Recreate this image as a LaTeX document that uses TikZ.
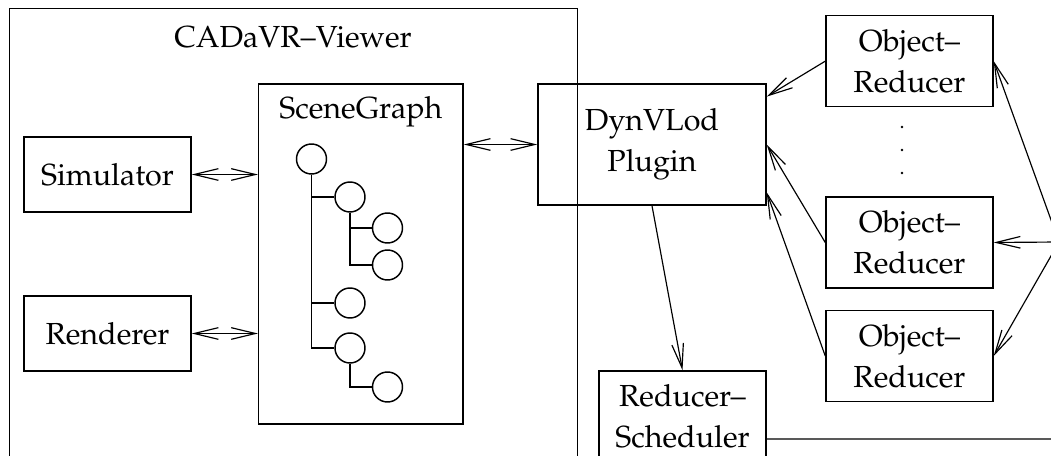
\documentclass[tikz,border=0pt]{standalone}
\usepackage[T1]{fontenc}
\usepackage{mathpazo}
\usepackage{tikz}
\usetikzlibrary{arrows.meta}

\tikzset{
  block/.style={draw, line width=0.5pt, align=center, inner sep=0pt},
  reducerbox/.style={block, minimum width=2.004cm, minimum height=1.092cm},
  sgcircle/.style={draw, circle, line width=0.5pt, minimum size=0.36cm, inner sep=0pt},
  onearrow/.style={line width=0.4pt, -{Straight Barb[length=2.9mm,width=1.4mm]}},
  twoarrow/.style={line width=0.4pt, {Straight Barb[length=2.9mm,width=1.4mm]}-{Straight Barb[length=2.9mm,width=1.4mm]}},
}

\begin{document}
\begin{tikzpicture}[font=\fontsize{10.4}{14}\selectfont]
\useasboundingbox (0cm,0cm) rectangle (12.612cm,-5.472cm);
\clip (0cm,0cm) rectangle (12.612cm,-5.472cm);

% viewer
\node [block, anchor=north west, minimum width=6.816cm, minimum height=5.8cm] (viewer) at (0.108cm,-0.096cm) {};
\node (viewertitle) at (3.516cm,-0.444cm) {CADaVR--Viewer};

\node [block, minimum width=2.004cm, minimum height=0.9cm] (sim) at (1.29cm,-2.094cm) {Simulator};
\node [block, minimum width=2.004cm, minimum height=0.9cm] (ren) at (1.29cm,-4.002cm) {Renderer};

% scene graph
\node [block, minimum width=2.453cm, minimum height=4.08cm] (scene) at (4.33cm,-3.048cm) {};
\node (scenetitle) at (4.33cm,-1.344cm) {SceneGraph};

\node [sgcircle] (root) at (3.738cm,-1.908cm) {};
\node [sgcircle] (c1) at (4.2cm,-2.364cm) {};
\node [sgcircle] (c2) at (4.2cm,-3.636cm) {};
\node [sgcircle] (c3) at (4.2cm,-4.176cm) {};
\node [sgcircle] (g1) at (4.65cm,-2.736cm) {};
\node [sgcircle] (g2) at (4.65cm,-3.18cm) {};
\node [sgcircle] (g3) at (4.65cm,-4.644cm) {};

\draw [line width=0.5pt] (root.south) |- (c1.west);
\draw [line width=0.5pt] (root.south) |- (c2.west);
\draw [line width=0.5pt] (root.south) |- (c3.west);
\draw [line width=0.5pt] (c1.south) |- (g1.west);
\draw [line width=0.5pt] (c1.south) |- (g2.west);
\draw [line width=0.5pt] (c3.south) |- (g3.west);

\draw [twoarrow] (sim.east) -- (sim.east -| scene.west);
\draw [twoarrow] (ren.east) -- (ren.east -| scene.west);

% plugin and reducers
\node [block, minimum width=2.736cm, minimum height=1.452cm] (dyn) at (7.824cm,-1.734cm) {DynVLod\\Plugin};
\draw [twoarrow] (scene.east |- dyn.west) -- (dyn.west);

\node [reducerbox] (or1) at (10.914cm,-0.734cm) {Object--\\Reducer};
\node [reducerbox] (or2) at (10.914cm,-2.91cm) {Object--\\Reducer};
\node [reducerbox] (or3) at (10.914cm,-4.272cm) {Object--\\Reducer};
\foreach \y in {-1.524,-1.8,-2.076}
  \fill (10.824cm,\y cm) circle (0.016cm);

\node [reducerbox] (sched) at (8.19cm,-4.998cm) {Reducer--\\Scheduler};

\draw [onearrow] (or1.west) -- ([yshift=-1.6mm]dyn.north east);
\draw [onearrow] (or2.west) -- (dyn.east);
\draw [onearrow] (or3.west) -- ([yshift=1.6mm]dyn.south east);
\draw [onearrow] (dyn.south) -- (sched.north);

\coordinate (hub) at (12.708cm,-2.904cm);
\coordinate (bus) at (12.708cm,-5.268cm);
\draw [line width=0.4pt] ([yshift=-2.7mm]sched.east) -- (bus) -- (hub);
\draw [onearrow] (hub) -- (or1.east);
\draw [onearrow] (hub) -- (or2.east);
\draw [onearrow] (hub) -- (or3.east);

\end{tikzpicture}
\end{document}
